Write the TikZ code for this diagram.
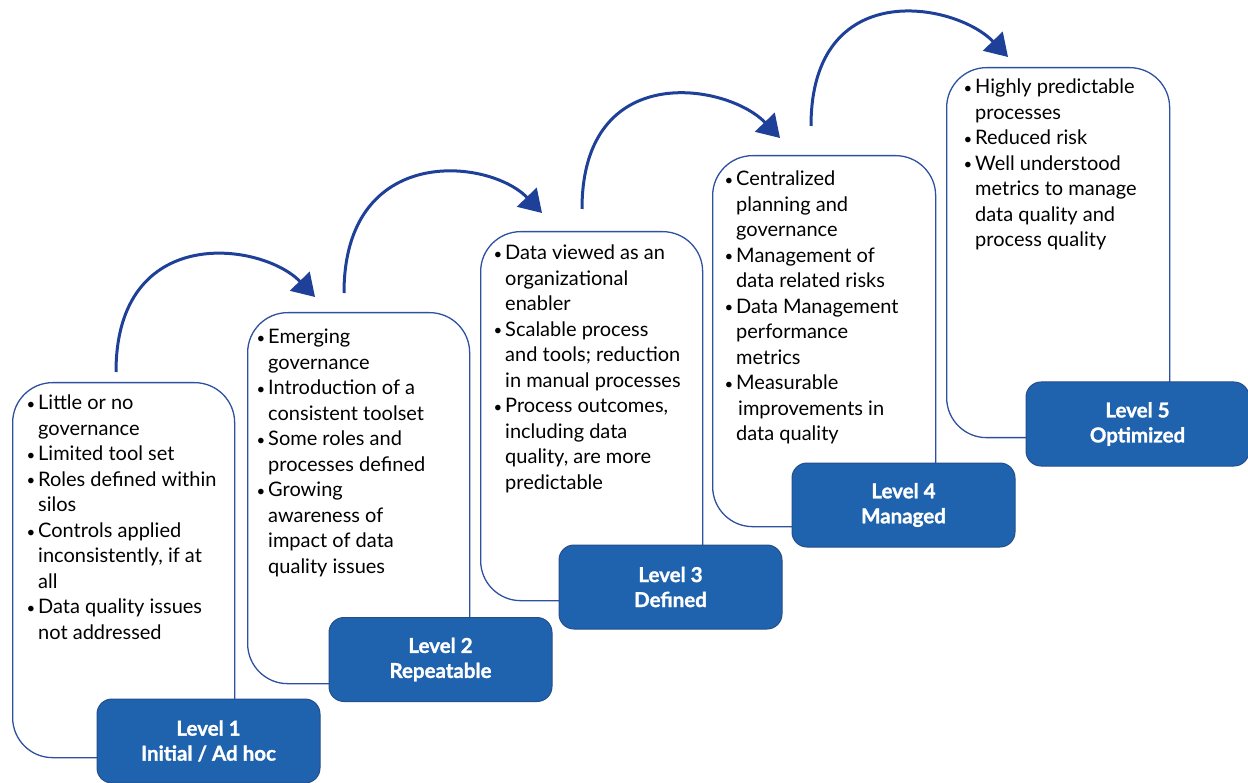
\documentclass[tikz,border=0pt]{standalone}
\usepackage{fontspec}
\setmainfont{Lato}[BoldFeatures={FakeBold=1.3}]
\usetikzlibrary{calc,arrows.meta}

\definecolor{boxline}{RGB}{46,80,160}
\definecolor{lvlfill}{RGB}{31,99,174}
\definecolor{lvlline}{RGB}{36,78,140}
\definecolor{arrowblue}{RGB}{30,64,152}

% bullet hung to the left of the text column
\newcommand{\itm}{\leavevmode\llap{\raisebox{0.5pt}{\fontsize{15}{15}\selectfont •}\kern3pt}}
\newcommand{\bullist}[1]{\parbox[t]{210pt}{\fontsize{20}{25.5}\selectfont #1}}

\tikzset{
  outline/.style={draw=boxline, line width=1.3pt, rounded corners=40pt, fill=white,
    anchor=north west, inner sep=0pt},
  lvl/.style={draw=lvlline, line width=1pt, fill=lvlfill, rounded corners=15pt,
    text=white, font=\bfseries\fontsize{20.5}{25}\selectfont, align=center,
    minimum width=223pt, minimum height=84pt, inner sep=0pt},
  bodytext/.style={anchor=base west, inner sep=0pt, text=black},
  stair/.style={draw=arrowblue, line width=3pt,
    -{Triangle[length=22pt,width=27pt]}},
}

\begin{document}
\begin{tikzpicture}[x=1pt,y=-1pt]
\useasboundingbox (0,0) rectangle (1248,783);

% outlined stages
\node[outline, minimum width=222pt, minimum height=375pt] (b1) at (12,382) {};
\node[outline, minimum width=222pt, minimum height=371pt] (b2) at (247,312) {};
\node[outline, minimum width=222pt, minimum height=369pt] (b3) at (480,231) {};
\node[outline, minimum width=223pt, minimum height=371pt] (b4) at (712,155) {};
\node[outline, minimum width=223pt, minimum height=370pt] (b5) at (946,67) {};

% stage descriptions
\node[bodytext] (t1) at ($(b1.north west)+(26,28)$) {\bullist{%
\itm Little or no\\governance\\
\itm Limited tool set\\
\itm Roles defined within\\silos\\
\itm Controls applied\\inconsistently, if at\\all\\
\itm Data quality issues\\not addressed}};

\node[bodytext] (t2) at ($(b2.north west)+(21,32)$) {\bullist{%
\itm Emerging\\governance\\
\itm Introduction of a\\consistent toolset\\
\itm Some roles and\\processes defined\\
\itm Growing\\awareness of\\impact of data\\quality issues}};

\node[bodytext] (t3) at ($(b3.north west)+(25,29)$) {\bullist{%
\itm Data viewed as an\\organizational\\enabler\\
\itm Scalable process\\and tools; reduction\\in manual processes\\
\itm Process outcomes,\\including data\\quality, are more\\predictable}};

\node[bodytext] (t4) at ($(b4.north west)+(24,31)$) {\bullist{%
\itm Centralized\\planning and\\governance\\
\itm Management of\\data related risks\\
\itm Data Management\\performance\\metrics\\
\itm Measurable\\\hspace*{2pt}improvements in\\data quality}};

\node[bodytext] (t5) at ($(b5.north west)+(29,27)$) {\bullist{%
\itm Highly predictable\\processes\\
\itm Reduced risk\\
\itm Well understood\\metrics to manage\\data quality and\\process quality}};

% level tags
\node[lvl] (l1) at (208.5,741) {Level 1\\Initial / Ad hoc};
\node[lvl] (l2) at (440.5,659.5) {Level 2\\Repeatable};
\node[lvl] (l3) at (670.5,587) {Level 3\\Defined};
\node[lvl] (l4) at (903.5,505) {Level 4\\Managed};
\node[lvl] (l5) at (1137.5,424) {Level 5\\Optimized};

% climbing arrows between stages
\coordinate (s1) at ($(b1.north west)+(104,-10)$);
\coordinate (e1) at ($(b2.north west)+(68,-15)$);
\coordinate (s2) at ($(b2.north west)+(97,-19)$);
\coordinate (e2) at ($(b3.north west)+(62,-18)$);
\coordinate (s3) at ($(b3.north west)+(102,-22)$);
\coordinate (e3) at ($(b4.north west)+(68,-17)$);
\coordinate (s4) at ($(b4.north west)+(99,-29)$);
\coordinate (e4) at ($(b5.north west)+(62,-10)$);
\foreach \i in {1,...,4}{
  \draw[stair] (s\i) .. controls +(0,-150) and +(-53,-55) .. (e\i);
}
\end{tikzpicture}
\end{document}
